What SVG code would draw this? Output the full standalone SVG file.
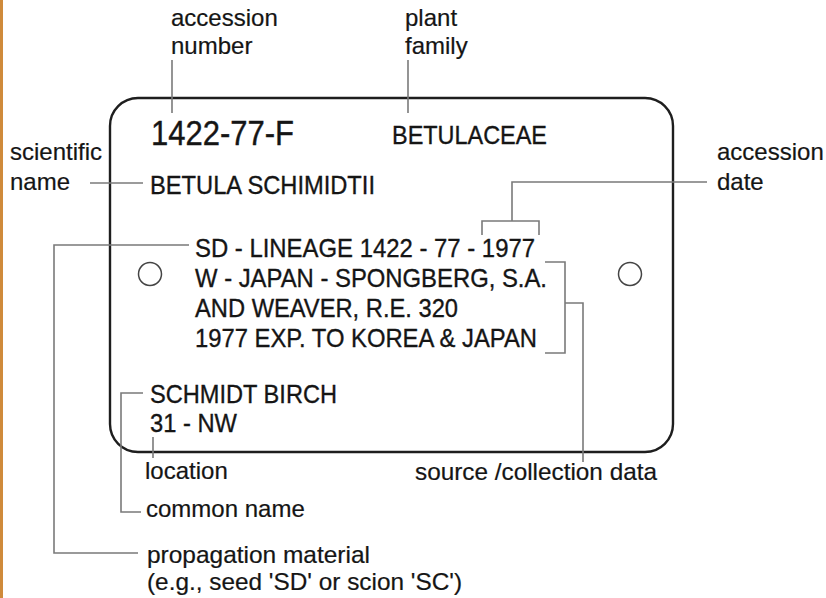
<svg xmlns="http://www.w3.org/2000/svg" width="826" height="598" viewBox="0 0 826 598">
  <style>
    text { font-family: "Liberation Sans", Arial, sans-serif; fill: #151515; }
    .lbl { font-size: 24px; stroke: #151515; stroke-width: 0.2; }
    .tag { font-size: 26px; stroke: #151515; stroke-width: 0.35; }
    .big { font-size: 35px; stroke: #151515; stroke-width: 0.4; }
    .conn { fill: none; stroke: #7a7a7a; stroke-width: 1.6; }
    .card { fill: #ffffff; stroke: #1e1e1e; stroke-width: 2.4; }
    .hole { fill: #ffffff; stroke: #444; stroke-width: 1.5; }
  </style>
  <rect x="0" y="0" width="826" height="598" fill="#ffffff"/>
  <rect x="0" y="0" width="3" height="598" fill="#cf8a3b"/>

  <g id="card">
    <rect class="card" x="110" y="98" width="563" height="354" rx="28" ry="28"/>
    <circle class="hole" cx="150" cy="274" r="11.5"/>
    <circle class="hole" cx="630" cy="274" r="11.5"/>
  </g>

  <g id="connectors">
    <!-- accession number -->
    <line class="conn" x1="172" y1="60" x2="172" y2="113"/>
    <!-- plant family -->
    <line class="conn" x1="408" y1="60" x2="408" y2="113"/>
    <!-- scientific name -->
    <line class="conn" x1="90" y1="183" x2="143" y2="183"/>
    <!-- accession date -->
    <polyline class="conn" points="482,235 482,221 539,221 539,235"/>
    <polyline class="conn" points="512,221 512,182 707,182"/>
    <!-- source / collection data -->
    <polyline class="conn" points="545,262 565,262 565,353 545,353"/>
    <polyline class="conn" points="565,303 583,303 583,462"/>
    <!-- propagation material -->
    <polyline class="conn" points="189,245 54,245 54,553 138,553"/>
    <!-- common name -->
    <polyline class="conn" points="143,393 121,393 121,512 141,512"/>
    <!-- location -->
    <line class="conn" x1="153" y1="437" x2="153" y2="458"/>
  </g>

  <g id="card-text">
    <text class="big" x="151" y="145" textLength="143" lengthAdjust="spacingAndGlyphs">1422-77-F</text>
    <text class="tag" x="392" y="144" textLength="155" lengthAdjust="spacingAndGlyphs">BETULACEAE</text>
    <text class="tag" x="150" y="194" textLength="225" lengthAdjust="spacingAndGlyphs">BETULA SCHIMIDTII</text>
    <text class="tag" x="195" y="257" textLength="340" lengthAdjust="spacingAndGlyphs">SD - LINEAGE 1422 - 77 - 1977</text>
    <text class="tag" x="195" y="287" textLength="352" lengthAdjust="spacingAndGlyphs">W - JAPAN - SPONGBERG, S.A.</text>
    <text class="tag" x="195" y="317" textLength="263" lengthAdjust="spacingAndGlyphs">AND WEAVER, R.E. 320</text>
    <text class="tag" x="195" y="347" textLength="342" lengthAdjust="spacingAndGlyphs">1977 EXP. TO KOREA &amp; JAPAN</text>
    <text class="tag" x="150" y="403" textLength="187" lengthAdjust="spacingAndGlyphs">SCHMIDT BIRCH</text>
    <text class="tag" x="150" y="432" textLength="87" lengthAdjust="spacingAndGlyphs">31 - NW</text>
  </g>

  <g id="label-accession-number">
    <text class="lbl" x="171" y="26">accession</text>
    <text class="lbl" x="171" y="54">number</text>
  </g>
  <g id="label-plant-family">
    <text class="lbl" x="405" y="26">plant</text>
    <text class="lbl" x="405" y="54">family</text>
  </g>
  <g id="label-scientific-name">
    <text class="lbl" x="10" y="160">scientific</text>
    <text class="lbl" x="10" y="190">name</text>
  </g>
  <g id="label-accession-date">
    <text class="lbl" x="717" y="160">accession</text>
    <text class="lbl" x="717" y="190">date</text>
  </g>
  <g id="label-location">
    <text class="lbl" x="145" y="479">location</text>
  </g>
  <g id="label-source">
    <text class="lbl" x="415" y="480" textLength="242" lengthAdjust="spacingAndGlyphs">source /collection data</text>
  </g>
  <g id="label-common-name">
    <text class="lbl" x="146" y="517">common name</text>
  </g>
  <g id="label-propagation">
    <text class="lbl" x="147" y="563" textLength="223" lengthAdjust="spacingAndGlyphs">propagation material</text>
    <text class="lbl" x="147" y="590" textLength="315" lengthAdjust="spacingAndGlyphs">(e.g., seed 'SD' or scion 'SC')</text>
  </g>
</svg>
